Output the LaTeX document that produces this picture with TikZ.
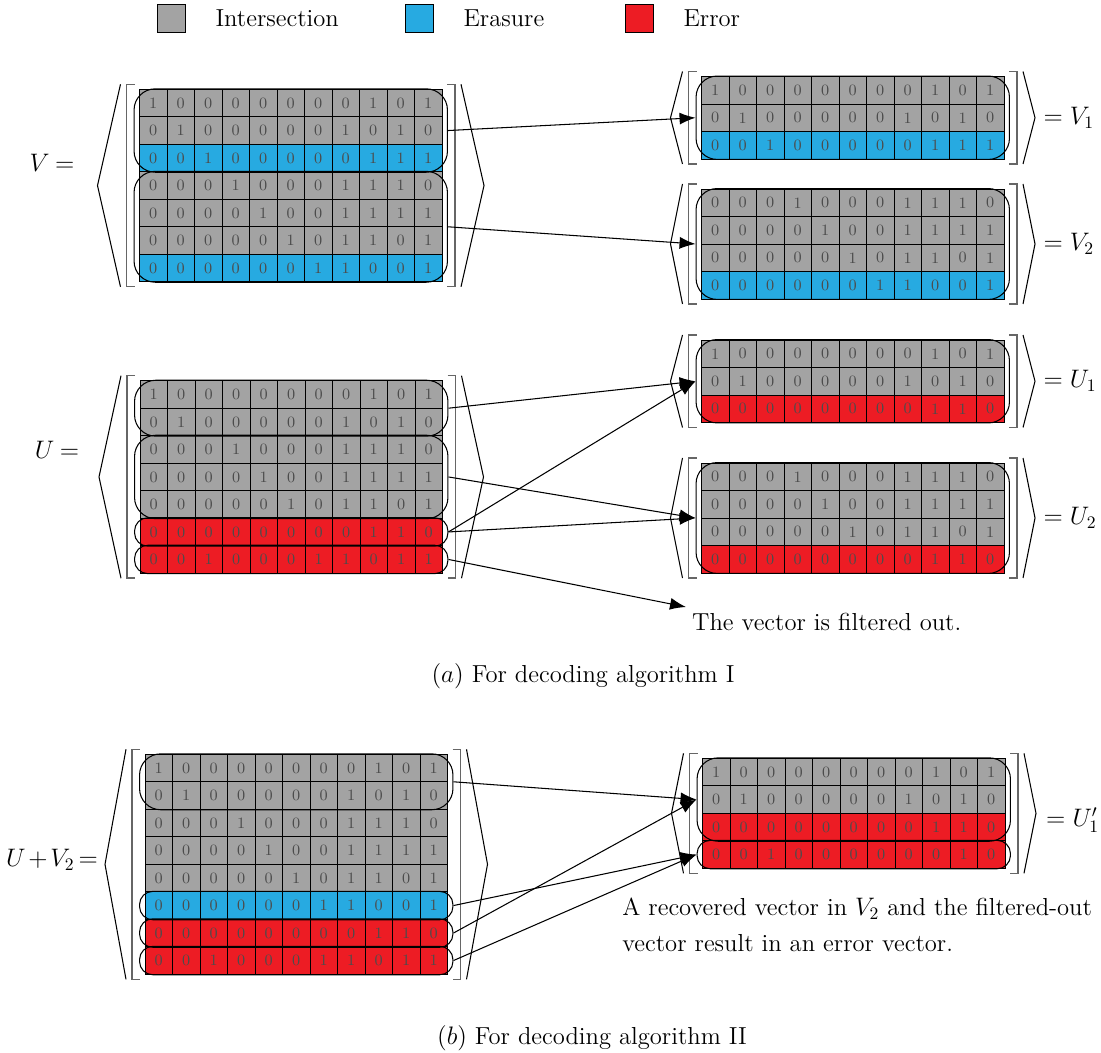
\documentclass[tikz,border=0pt]{standalone}
\usepackage{tikz}
\usetikzlibrary{arrows.meta, positioning, fit}

\definecolor{isect}{RGB}{163,163,163}
\definecolor{erase}{RGB}{39,170,225}
\definecolor{errc}{RGB}{237,28,36}

% rows of the matrices
\newcommand\rwA{1,0,0,0,0,0,0,0,1,0,1}
\newcommand\rwB{0,1,0,0,0,0,0,1,0,1,0}
\newcommand\rwC{0,0,1,0,0,0,0,0,1,1,1}
\newcommand\rwD{0,0,0,1,0,0,0,1,1,1,0}
\newcommand\rwE{0,0,0,0,1,0,0,1,1,1,1}
\newcommand\rwF{0,0,0,0,0,1,0,1,1,0,1}
\newcommand\rwG{0,0,0,0,0,0,1,1,0,0,1}
\newcommand\rwH{0,0,0,0,0,0,0,0,1,1,0}
\newcommand\rwI{0,0,1,0,0,0,1,1,0,1,1}
\newcommand\rwJ{0,0,1,0,0,0,0,0,0,1,0}

% one row of cells: name, row, left x, top y, fill, digits
\newcommand\mrow[6]{%
  \edef\cellvals{#6}%
  \foreach \dg [count=\cn] in \cellvals
    \node[cell, fill=#5] (#1-#2-\cn) at ({#3+(\cn-0.5)*27.5},{#4+(#2-0.5)*27.5}) {\dg};}

% whole matrix: name, left x, top y, fill/row list
\newcommand\cellmat[4]{%
  \foreach \fl/\rw [count=\rn] in {#4} {\mrow{#1}{\rn}{#2}{#3}{\fl}{\rw}}}

% brackets and angles round a matrix: left x, top y, rows, angle depth
\newcommand\matwrap[4]{%
  \pgfmathsetmacro\bL{#1-13}
  \pgfmathsetmacro\bR{#1+302.5+13}
  \pgfmathsetmacro\bT{#2-5}
  \pgfmathsetmacro\bB{#2+#3*27.5+5}
  \pgfmathsetmacro\bM{(\bT+\bB)/2}
  \draw[brk] (\bL+8,\bT) -- (\bL,\bT) -- (\bL,\bB) -- (\bL+8,\bB);
  \draw[brk] (\bR-8,\bT) -- (\bR,\bT) -- (\bR,\bB) -- (\bR-8,\bB);
  \draw[ang] (\bL-6,\bT) -- (\bL-6-#4,\bM) -- (\bL-6,\bB);
  \draw[ang] (\bR+6,\bT) -- (\bR+6+#4,\bM) -- (\bR+6,\bB);}

\begin{document}
\begin{tikzpicture}[
    x=0.02cm, y=-0.02cm,
    cell/.style={draw, line width=0.5pt, minimum width=0.55cm, minimum height=0.55cm,
                 inner sep=0pt, font=\fontsize{9}{9}\selectfont, text=black!70},
    grp/.style={draw, rounded corners=12pt, inner xsep=0.1cm, inner ysep=0pt, line width=0.6pt},
    rowgrp/.style={grp, rounded corners=7.5pt},
    brk/.style={draw=black!60, line width=0.8pt},
    ang/.style={line width=0.6pt},
    arr/.style={-{Latex[length=0.32cm, width=0.24cm]}, line width=0.6pt},
    lgbox/.style={draw, minimum size=0.56cm, inner sep=0pt},
    txt/.style={font=\fontsize{14}{16}\selectfont}
]
\useasboundingbox (0,0) rectangle (1101,1053);

% Legend
\node[lgbox, fill=isect] (lgI) at (171,18) {};
\node[txt, right=0.48cm of lgI] (tI) {Intersection};
\node[lgbox, fill=erase] (lgE) at (419,18) {};
\node[txt, right=0.48cm of lgE] (tE) {Erasure};
\node[lgbox, fill=errc] (lgR) at (639,18) {};
\node[txt, right=0.48cm of lgR] (tR) {Error};

% Part (a): V
\cellmat{V}{139.5}{89.3}{isect/\rwA, isect/\rwB, erase/\rwC, isect/\rwD, isect/\rwE, isect/\rwF, erase/\rwG}
\matwrap{139.5}{89.3}{7}{23}
\node[grp, fit=(V-1-1)(V-3-11)] (gV1) {};
\node[grp, fit=(V-4-1)(V-7-11)] (gV2) {};
\node[txt] (lV) at (52,163) {$V\mkern4mu{=}$};

\cellmat{Va}{701.5}{76.5}{isect/\rwA, isect/\rwB, erase/\rwC}
\matwrap{701.5}{76.5}{3}{12}
\node[grp, fit=(Va-1-1)(Va-3-11)] (gVa) {};
\node[txt, right=0.55cm of gVa] (lVa) {$=V_1$};

\cellmat{Vb}{701.5}{189}{isect/\rwD, isect/\rwE, isect/\rwF, erase/\rwG}
\matwrap{701.5}{189}{4}{12}
\node[grp, fit=(Vb-1-1)(Vb-4-11)] (gVb) {};
\node[txt, right=0.55cm of gVb] (lVb) {$=V_2$};

\draw[arr] (gV1.east) -- (gVa.west);
\draw[arr] (gV2.east) -- (gVb.west);

% Part (a): U
\cellmat{U}{140}{380.7}{isect/\rwA, isect/\rwB, isect/\rwD, isect/\rwE, isect/\rwF, errc/\rwH, errc/\rwI}
\matwrap{140}{380.7}{7}{22}
\node[grp, fit=(U-1-1)(U-2-11)] (gU1) {};
\node[grp, fit=(U-3-1)(U-5-11)] (gU2) {};
\node[rowgrp, fit=(U-6-1)(U-6-11)] (gU3) {};
\node[rowgrp, fit=(U-7-1)(U-7-11)] (gU4) {};
\node[txt] (lU) at (57,450) {$U\mkern4mu{=}$};

\cellmat{Ua}{701.5}{340}{isect/\rwA, isect/\rwB, errc/\rwH}
\matwrap{701.5}{340}{3}{12}
\node[grp, fit=(Ua-1-1)(Ua-3-11)] (gUa) {};
\node[txt, right=0.55cm of gUa] (lUa) {$=U_1$};

\cellmat{Ub}{701.5}{463}{isect/\rwD, isect/\rwE, isect/\rwF, errc/\rwH}
\matwrap{701.5}{463}{4}{12}
\node[grp, fit=(Ub-1-1)(Ub-4-11)] (gUb) {};
\node[txt, right=0.55cm of gUb] (lUb) {$=U_2$};

\node[txt, anchor=west] (filt) at (686,622) {The vector is filtered out.};

\draw[arr] (gU1.east) -- (gUa.west);
\draw[arr] (gU2.east) -- (gUb.west);
\draw[arr] (gU3.east) -- (gUa.west);
\draw[arr] (gU3.east) -- (gUb.west);
\draw[arr] (gU4.east) -- (filt.north west);

\node[txt] (capA) at (583,676) {$(a)$ For decoding algorithm I};

% Part (b): U + V2
\cellmat{W}{145}{754.3}{isect/\rwA, isect/\rwB, isect/\rwD, isect/\rwE, isect/\rwF, erase/\rwG, errc/\rwH, errc/\rwI}
\matwrap{145}{754.3}{8}{21}
\node[grp, fit=(W-1-1)(W-2-11)] (gW1) {};
\node[rowgrp, fit=(W-6-1)(W-6-11)] (gW6) {};
\node[rowgrp, fit=(W-7-1)(W-7-11)] (gW7) {};
\node[rowgrp, fit=(W-8-1)(W-8-11)] (gW8) {};
\node[txt] (lW) at (52,860) {$U\mkern2mu{+}\mkern2mu V_2\mkern3mu{=}$};

\cellmat{P}{702.5}{758.3}{isect/\rwA, isect/\rwB, errc/\rwH, errc/\rwJ}
\matwrap{702.5}{758.3}{4}{12}
\node[grp, fit=(P-1-1)(P-3-11)] (gP1) {};
\node[rowgrp, fit=(P-4-1)(P-4-11)] (gP2) {};
\node[txt, anchor=west] (lP) at (1040,820) {$=U'_1$};

\draw[arr] (gW1.east) -- (gP1.west);
\draw[arr] (gW6.east) -- (gP2.west);
\draw[arr] (gW7.east) -- (gP1.west);
\draw[arr] (gW8.east) -- (gP2.west);

\node[anchor=west, align=left, inner sep=0pt, font=\fontsize{14}{20.5}\selectfont] (note) at (622,925)
  {A recovered vector in $V_2$ and the filtered-out\\vector result in an error vector.};

\node[txt] (capB) at (592,1038) {$(b)$ For decoding algorithm II};

\end{tikzpicture}
\end{document}
